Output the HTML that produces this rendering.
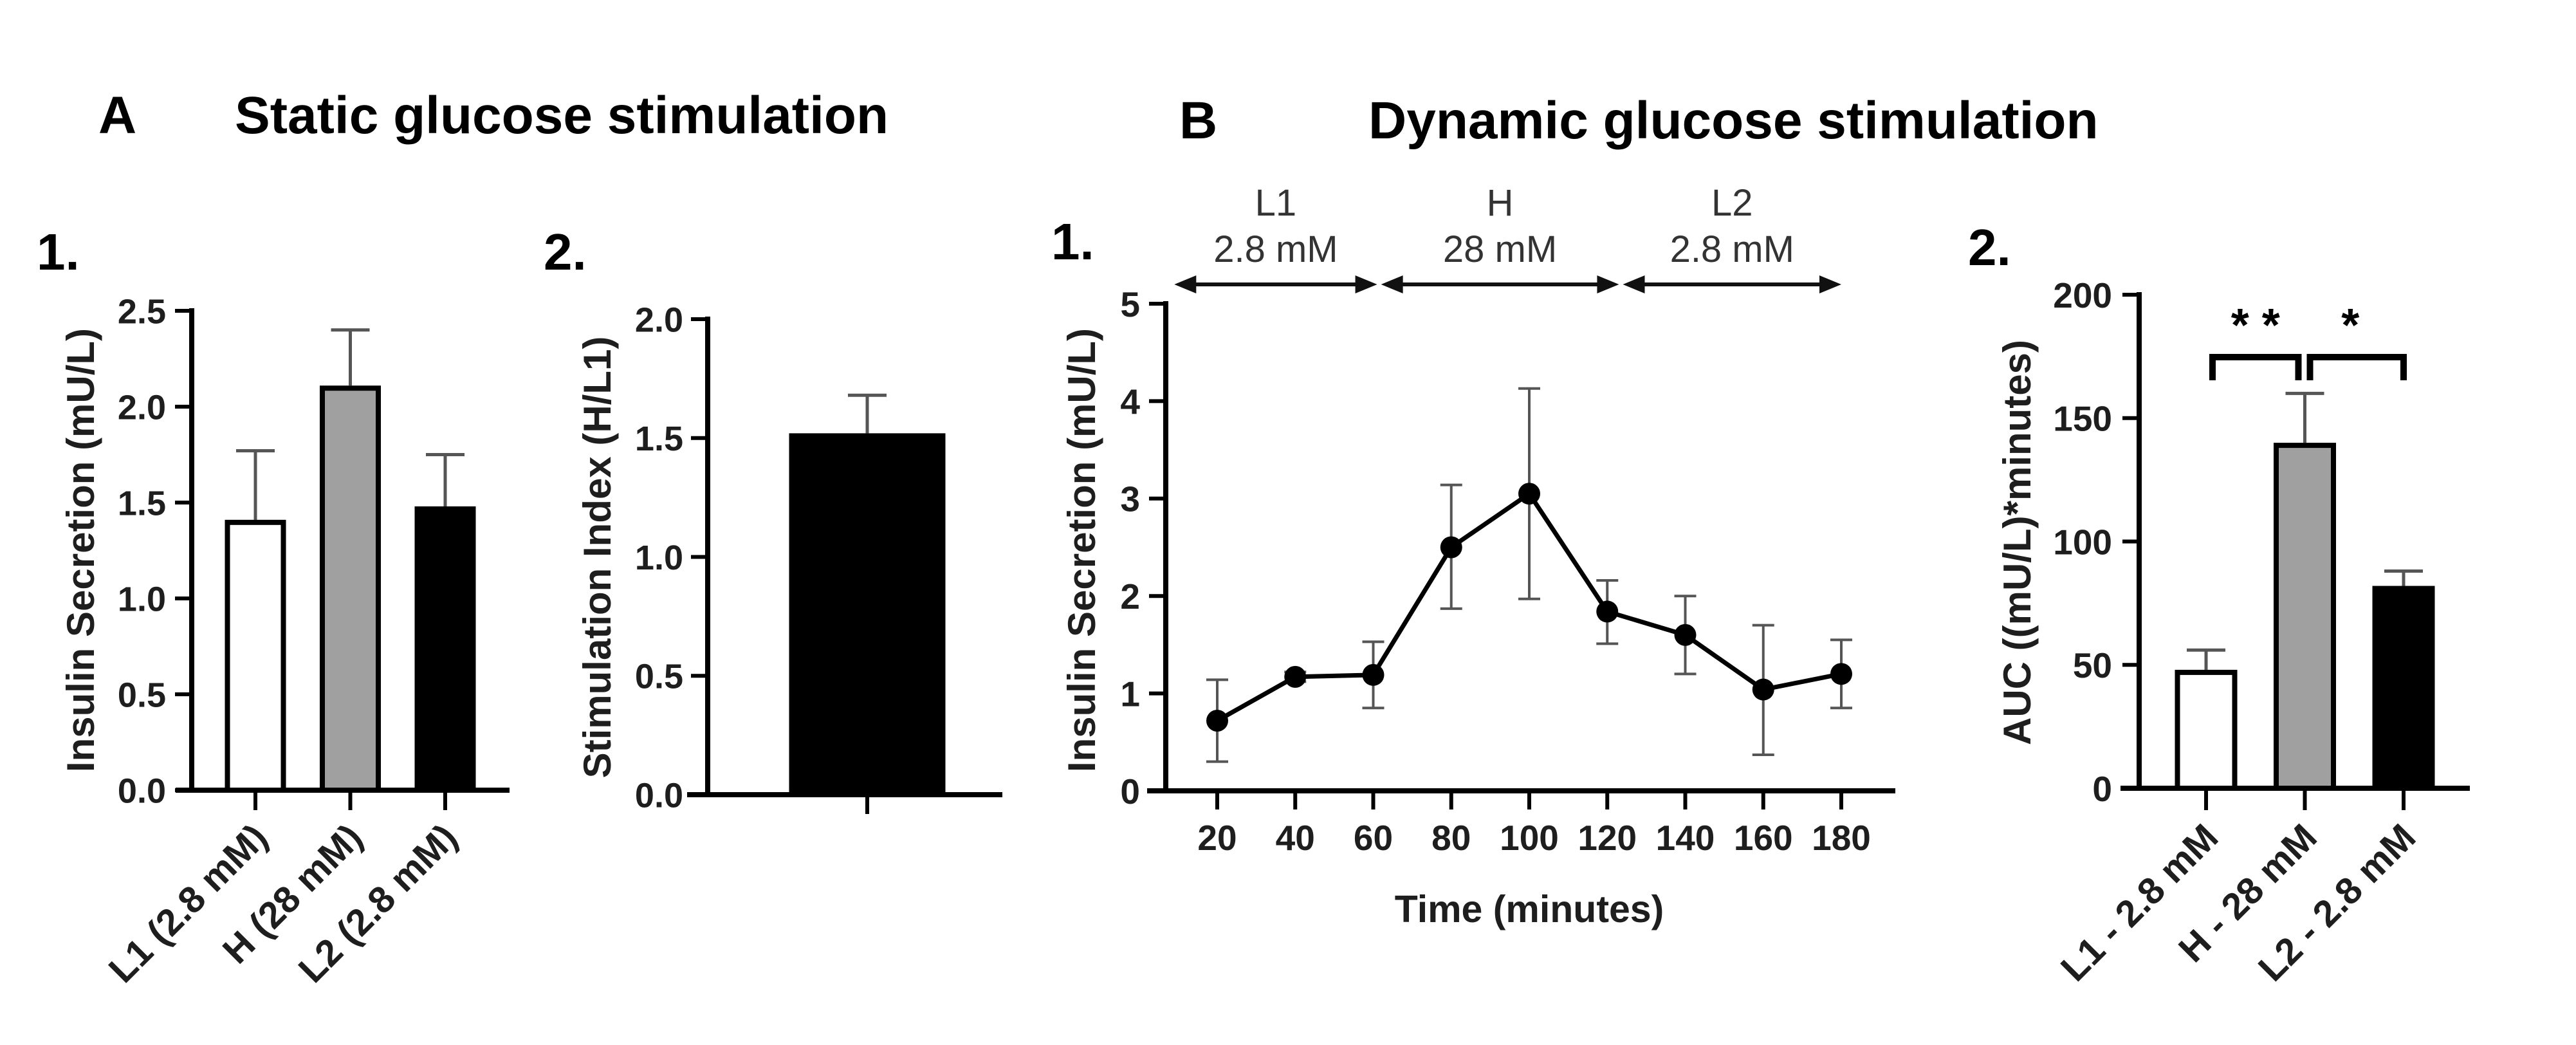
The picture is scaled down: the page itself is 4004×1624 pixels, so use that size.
<!DOCTYPE html>
<html><head><meta charset="utf-8"><style>
html,body{margin:0;padding:0;background:#fff;}
svg{display:block;font-family:"Liberation Sans",Arial,sans-serif;}
</style></head><body>
<svg id="fig" width="4004" height="1624" viewBox="0 0 4004 1624" xmlns="http://www.w3.org/2000/svg">
<g>
<text x="153" y="207" font-size="82" font-weight="bold" fill="#000">A</text>
<text x="365" y="207" font-size="82" font-weight="bold" fill="#000">Static glucose stimulation</text>
</g>
<g>
<text x="1833" y="215" font-size="82" font-weight="bold" fill="#000">B</text>
<text x="2127" y="215" font-size="82" font-weight="bold" fill="#000">Dynamic glucose stimulation</text>
</g>
<text x="57" y="419" font-size="80" font-weight="bold" fill="#000">1.</text>
<text x="845" y="419" font-size="80" font-weight="bold" fill="#000">2.</text>
<text x="1634" y="403" font-size="80" font-weight="bold" fill="#000">1.</text>
<text x="3059" y="412" font-size="80" font-weight="bold" fill="#000">2.</text>
</svg>
<script>
// ---- Chart A1 data ----
const a1Categories = ["L1 (2.8 mM)", "H (28 mM)", "L2 (2.8 mM)"];
const a1Values = [1.41, 2.11, 1.48];
const a1ErrTop = [1.77, 2.40, 1.75];
const a1Ticks = [0, 0.5, 1.0, 1.5, 2.0, 2.5];
const a1TickLabels = ["0.0", "0.5", "1.0", "1.5", "2.0", "2.5"];
// ---- Chart A2 data ----
const a2Values = [1.52];
const a2ErrTop = [1.68];
const a2Ticks = [0, 0.5, 1.0, 1.5, 2.0];
const a2TickLabels = ["0.0", "0.5", "1.0", "1.5", "2.0"];
// ---- Chart B1 data ----
const b1Times = [20, 40, 60, 80, 100, 120, 140, 160, 180];
const b1Means = [0.72, 1.17, 1.19, 2.50, 3.05, 1.84, 1.60, 1.04, 1.20];
const b1ErrLow = [0.30, 1.12, 0.85, 1.87, 1.97, 1.51, 1.20, 0.37, 0.85];
const b1ErrHigh = [1.14, 1.22, 1.53, 3.14, 4.13, 2.16, 2.00, 1.70, 1.55];
const b1YTicks = [0, 1, 2, 3, 4, 5];
const b1XTickLabels = ["20", "40", "60", "80", "100", "120", "140", "160", "180"];
const b1PhaseNames = ["L1", "H", "L2"];
const b1PhaseConc = ["2.8 mM", "28 mM", "2.8 mM"];
const b1PhaseStart = [9, 62, 124];
const b1PhaseEnd = [61, 123, 180];
// ---- Chart B2 data ----
const b2Categories = ["L1 - 2.8 mM", "H - 28 mM", "L2 - 2.8 mM"];
const b2Values = [48, 140, 82];
const b2ErrTop = [56, 160, 88];
const b2Ticks = [0, 50, 100, 150, 200];
const b2SigFrom = [0, 1];
const b2SigTo = [1, 2];
const b2SigLabels = ["* *", "*"];

const NS = "http://www.w3.org/2000/svg";
const svg = document.getElementById("fig");
function mk(tag, attrs, parent) {
  const e = document.createElementNS(NS, tag);
  for (const k in attrs) e.setAttribute(k, attrs[k]);
  (parent || svg).appendChild(e);
  return e;
}
function txt(parent, s, attrs) { const t = mk("text", attrs, parent); t.textContent = s; return t; }
const TXT = "#1e1e1e";

function yAxis(g, axX, yFn, ticks, labels, x0line, labelRight, fs) {
  const ax = mk("line", {x1: axX, x2: axX, y1: yFn(ticks[ticks.length-1]) - 4, y2: yFn(ticks[0]) + 4, stroke: "#000", "stroke-width": 8}, g);
  
  
  ticks.forEach((v, i) => {
    const tk = mk("line", {x1: axX - 26, x2: axX, y1: yFn(v), y2: yFn(v), stroke: "#000", "stroke-width": 6}, g);
    
    
    const tl = txt(g, labels[i], {x: labelRight, y: yFn(v) + fs * 0.36, "text-anchor": "end", "font-size": fs, "font-weight": "bold", fill: TXT});
    
    
  });
}
function yTitle(g, s, cx, cy, fs) {
  const t = txt(g, s, {x: cx, y: cy, "text-anchor": "middle", "font-size": fs, "font-weight": "bold", fill: TXT, transform: `rotate(-90 ${cx} ${cy})`, "dominant-baseline": "middle"});
  
  
}
function barChart(g, cats, vals, errs, xC, bw, yFn, fills, baseY, tickBottom, labelFs) {
  vals.forEach((v, i) => {
    const cx = xC(i);
    const e1 = mk("line", {x1: cx, x2: cx, y1: yFn(errs[i]), y2: yFn(v), stroke: "#555", "stroke-width": 5}, g);
    
    
    const e2 = mk("line", {x1: cx - 30, x2: cx + 30, y1: yFn(errs[i]), y2: yFn(errs[i]), stroke: "#555", "stroke-width": 5}, g);
    
    
    const r = mk("rect", {x: cx - bw/2 + 4, y: yFn(v) + 4, width: bw - 8, height: baseY - yFn(v) - 4, fill: fills[i], stroke: "#000", "stroke-width": 8}, g);
    
    
    const tk = mk("line", {x1: cx, x2: cx, y1: baseY, y2: tickBottom, stroke: "#000", "stroke-width": 6}, g);
    
    
    if (cats) {
      const lx = cx + 22, ly = 1305;
      const t = txt(g, cats[i], {x: lx, y: ly, "text-anchor": "end", "font-size": labelFs, "font-weight": "bold", fill: TXT, transform: `rotate(-45 ${lx} ${ly})`});
      
      
    }
  });
}

// ===== Chart A1 =====
{
  const g = mk("g", {});
  
  
  const y = v => 1228 - v * 298;
  const xC = i => 397 + i * 147.5;
  barChart(g, a1Categories, a1Values, a1ErrTop, xC, 95, y, ["#fff", "#a0a0a0", "#000"], 1228, 1259, 58);
  const xa = mk("line", {x1: 273, x2: 792, y1: 1228, y2: 1228, stroke: "#000", "stroke-width": 8}, g);
  
  
  yAxis(g, 298, y, a1Ticks, a1TickLabels, 0, 258, 54);
  yTitle(g, "Insulin Secretion (mU/L)", 130, 855, 60);
}
// ===== Chart A2 =====
{
  const g = mk("g", {});
  
  
  const y = v => 1235 - v * 369.5;
  const xC = i => 1348 + i * 200;
  barChart(g, null, a2Values, a2ErrTop, xC, 243, y, ["#000"], 1235, 1265, 58);
  const xa = mk("line", {x1: 1068, x2: 1558, y1: 1235, y2: 1235, stroke: "#000", "stroke-width": 8}, g);
  
  
  yAxis(g, 1100, y, a2Ticks, a2TickLabels, 0, 1062, 54);
  yTitle(g, "Stimulation Index (H/L1)", 933, 866, 60);
}
// ===== Chart B1 =====
{
  const g = mk("g", {});
  
  
  const y = v => 1229 - v * 151.4;
  const x = t => 1892 + (t - 20) * 6.0625;
  // phase arrows
  b1PhaseNames.forEach((n, i) => {
    const x1 = x(b1PhaseStart[i]), x2 = x(b1PhaseEnd[i]), ay = 442;
    const ln = mk("line", {x1: x1 + 20, x2: x2 - 20, y1: ay, y2: ay, stroke: "#111", "stroke-width": 6}, g);
    
    
    const h1 = mk("polygon", {points: `${x1},${ay} ${x1+34},${ay-14} ${x1+34},${ay+14}`, fill: "#111"}, g);
    
    
    const h2 = mk("polygon", {points: `${x2},${ay} ${x2-34},${ay-14} ${x2-34},${ay+14}`, fill: "#111"}, g);
    
    
    const cx = (x1 + x2) / 2;
    const t1 = txt(g, n, {x: cx, y: 335, "text-anchor": "middle", "font-size": 58, fill: "#333"}, g);
    
    
    const t2 = txt(g, b1PhaseConc[i], {x: cx, y: 407, "text-anchor": "middle", "font-size": 58, fill: "#333"}, g);
    
    
  });
  const xa = mk("line", {x1: 1783, x2: 2946, y1: 1229, y2: 1229, stroke: "#000", "stroke-width": 8}, g);
  
  
  b1Times.forEach((t, i) => {
    const tk = mk("line", {x1: x(t), x2: x(t), y1: 1229, y2: 1258, stroke: "#000", "stroke-width": 6}, g);
    
    
    const tl = txt(g, b1XTickLabels[i], {x: x(t), y: 1321, "text-anchor": "middle", "font-size": 55, "font-weight": "bold", fill: TXT}, g);
    
    
  });
  yAxis(g, 1812, y, b1YTicks, b1YTicks.map(String), 0, 1772, 55);
  yTitle(g, "Insulin Secretion (mU/L)", 1686, 855, 60);
  const xt = txt(g, "Time (minutes)", {x: 2377, y: 1433, "text-anchor": "middle", "font-size": 59, "font-weight": "bold", fill: TXT}, g);
  
  
  b1Times.forEach((t, i) => {
    const eb = mk("line", {x1: x(t), x2: x(t), y1: y(b1ErrLow[i]), y2: y(b1ErrHigh[i]), stroke: "#555", "stroke-width": 4}, g);
    
    
    [b1ErrLow[i], b1ErrHigh[i]].forEach(v => {
      const c = mk("line", {x1: x(t) - 17, x2: x(t) + 17, y1: y(v), y2: y(v), stroke: "#555", "stroke-width": 4}, g);
      
      
    });
  });
  const pts = b1Times.map((t, i) => `${x(t)},${y(b1Means[i])}`).join(" ");
  const pl = mk("polyline", {points: pts, fill: "none", stroke: "#000", "stroke-width": 7, "stroke-linejoin": "round"}, g);
  
  
  b1Times.forEach((t, i) => {
    const c = mk("circle", {cx: x(t), cy: y(b1Means[i]), r: 17, fill: "#000"}, g);
    
    
  });
}
// ===== Chart B2 =====
{
  const g = mk("g", {});
  
  
  const y = v => 1225 - v * 3.835;
  const xC = i => 3429 + i * 153.5;
  barChart(g, b2Categories, b2Values, b2ErrTop, xC, 97, y, ["#fff", "#a0a0a0", "#000"], 1225, 1259, 58);
  const xa = mk("line", {x1: 3296, x2: 3839, y1: 1225, y2: 1225, stroke: "#000", "stroke-width": 8}, g);
  
  
  yAxis(g, 3325, y, b2Ticks, b2Ticks.map(String), 0, 3283, 55);
  yTitle(g, "AUC ((mU/L)*minutes)", 3140, 843, 60);
  b2SigFrom.forEach((a, i) => {
    const xa1 = xC(a) + (i === 0 ? 10 : 8), xb = xC(b2SigTo[i]) - (i === 0 ? 10 : 0);
    const br = mk("polyline", {points: `${xa1},591 ${xa1},555 ${xb},555 ${xb},591`, fill: "none", stroke: "#000", "stroke-width": 10}, g);
    
    
    const st = txt(g, b2SigLabels[i], {x: (xa1 + xb) / 2 + (i === 1 ? -10 : 0), y: 530, "text-anchor": "middle", "font-size": 72, "font-weight": "bold", fill: "#000"}, g);
    
    
  });
}
</script>
</body></html>
